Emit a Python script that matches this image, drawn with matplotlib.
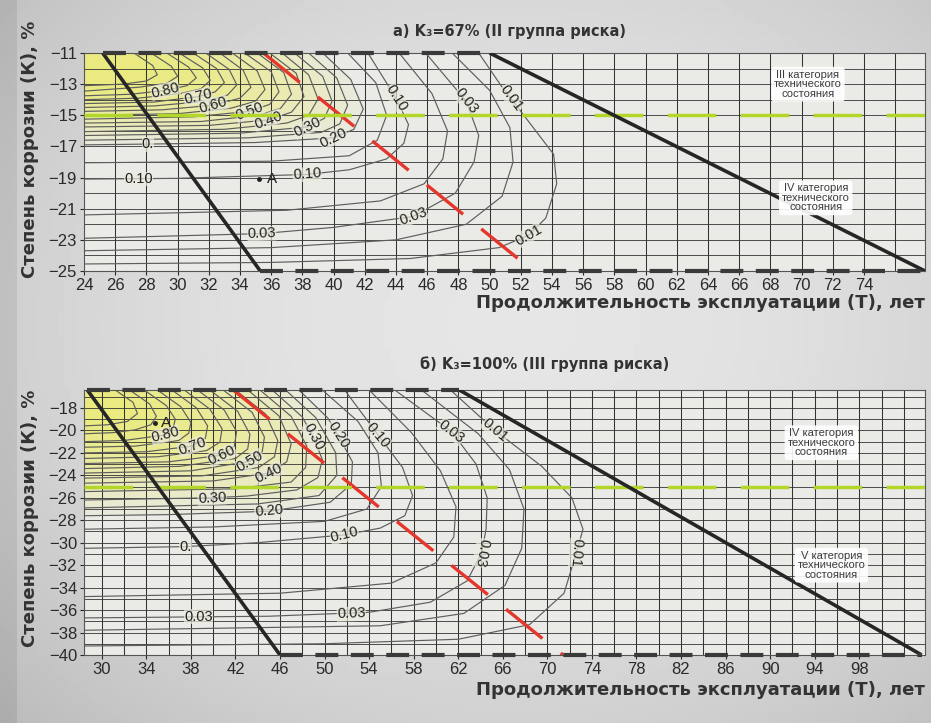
import numpy as np
import matplotlib.pyplot as plt

plt.rcParams['font.family'] = ['Liberation Sans', 'DejaVu Sans']

# ---------------- а) K3=67% (II группа риска) ----------------
a_levels = [0.90, 0.85, 0.80, 0.75, 0.70, 0.65, 0.60, 0.55, 0.50, 0.45, 0.40, 0.35, 0.30, 0.25,
            0.20, 0.15, 0.10, 0.05, 0.03, 0.02, 0.01]
a_T = [
    [27.2, 28.4, 28.7, 28.0, 26.5, 24.0],
    [28.3, 29.6, 30.0, 29.3, 27.5, 24.0],
    [29.3, 30.7, 31.2, 30.6, 29.2, 27.0, 24.0],
    [30.1, 31.6, 32.1, 31.5, 30.2, 27.5, 24.0],
    [31.0, 32.5, 33.0, 32.4, 31.3, 28.5, 24.0],
    [31.8, 33.3, 33.8, 33.2, 31.8, 28.5, 24.0],
    [32.7, 34.2, 34.7, 34.0, 32.3, 29.0, 24.0],
    [33.5, 35.1, 35.6, 35.0, 33.4, 30.0, 24.0],
    [34.3, 36.0, 36.5, 35.9, 34.6, 31.0, 24.0],
    [35.1, 36.8, 37.3, 36.6, 35.2, 31.5, 24.0],
    [35.9, 37.6, 38.1, 37.3, 35.8, 32.0, 24.0],
    [36.7, 38.4, 39.0, 38.4, 37.0, 33.0, 24.0],
    [37.5, 39.3, 39.9, 39.4, 38.3, 34.0, 24.0],
    [38.4, 40.2, 40.9, 40.4, 39.2, 34.5, 24.0],
    [39.3, 41.1, 41.9, 41.3, 40.0, 35.0, 28.1, 24.0],
    [40.9, 42.7, 43.4, 42.8, 41.0, 36.0, 24.0],
    [42.2, 44.0, 44.8, 44.5, 43.4, 41.0, 38.3, 30.0, 24.0],
    [44.2, 46.3, 47.3, 47.0, 45.8, 43.0, 37.0, 24.0],
    [45.9, 48.5, 49.3, 49.0, 47.8, 45.1, 40.0, 35.4, 24.0],
    [47.6, 50.0, 51.3, 51.5, 50.8, 48.5, 44.0, 36.0, 24.0],
    [49.3, 50.7, 52.8, 54.1, 54.3, 53.6, 52.5, 50.6, 44.9, 36.0, 24.0],
]
a_K = [
    [-11, -11.8, -12.4, -12.8, -13.0, -13.1],
    [-11, -11.85, -12.5, -12.95, -13.2, -13.45],
    [-11, -11.9, -12.6, -13.1, -13.4, -13.65, -13.75],
    [-11, -11.95, -12.75, -13.3, -13.6, -13.9, -14.0],
    [-11, -12.0, -12.9, -13.5, -13.8, -14.15, -14.25],
    [-11, -12.05, -13.05, -13.7, -14.1, -14.4, -14.5],
    [-11, -12.1, -13.2, -13.9, -14.35, -14.65, -14.75],
    [-11, -12.15, -13.35, -14.1, -14.55, -14.9, -15.0],
    [-11, -12.2, -13.5, -14.3, -14.75, -15.1, -15.25],
    [-11, -12.25, -13.65, -14.55, -15.0, -15.4, -15.5],
    [-11, -12.3, -13.8, -14.8, -15.3, -15.65, -15.75],
    [-11, -12.4, -13.95, -15.0, -15.5, -15.9, -16.05],
    [-11, -12.5, -14.1, -15.2, -15.75, -16.15, -16.3],
    [-11, -12.6, -14.35, -15.55, -16.1, -16.45, -16.6],
    [-11, -12.7, -14.6, -15.9, -16.45, -16.75, -16.85, -16.9],
    [-11, -12.9, -15.0, -16.6, -17.6, -17.95, -18.05],
    [-11, -13.9, -15.6, -16.8, -17.8, -18.5, -18.8, -19.05, -19.1],
    [-11, -13.6, -16.0, -17.8, -19.4, -20.5, -21.1, -21.4],
    [-11, -14.1, -16.3, -18.0, -20.0, -21.5, -22.2, -22.6, -22.9],
    [-11, -13.4, -15.8, -18.0, -20.2, -22.0, -23.0, -23.5, -23.7],
    [-11, -13.05, -15.8, -17.5, -19.4, -21.6, -22.7, -23.5, -24.2, -24.45, -24.55],
]
a_labels = [("0.80", 29.2, -13.40, 14), ("0.70", 31.3, -13.80, 14), ("0.60", 32.3, -14.35, 16),
            ("0.50", 34.6, -14.75, 20), ("0.40", 35.8, -15.30, 20), ("0.30", 38.3, -15.75, 26),
            ("0.20", 40.0, -16.45, 26), ("0.", 28.1, -16.87, 0), ("0.10", 27.5, -19.08, 0),
            ("0.10", 38.3, -18.80, 4), ("0.10", 44.0, -13.9, -58), ("0.03", 48.5, -14.1, -52),
            ("0.01", 51.4, -13.9, -53), ("0.03", 45.1, -21.5, 20), ("0.03", 35.4, -22.6, 2),
            ("0.01", 52.5, -22.7, 30)]
a_xlim, a_ylim = (24, 77.9), (-25, -11)
a_xticks = list(range(24, 75, 2))
a_yticks = list(range(-11, -26, -2))
a_left = ([25.2, 35.3], [-11, -25])
a_right = ([50.0, 77.9], [-11, -25])
a_red = ([35.5, 52.8], [-11, -25])
a_green = -15
a_A = (35.2, -19.1)
a_boxes = [("III категория\nтехнического\nсостояния", 70.4, -13.0),
           ("IV категория\nтехнического\nсостояния", 70.9, -20.3)]

# ---------------- б) K3=100% (III группа риска) ----------------
b_levels = a_levels
b_T = [
    [31.2, 32.8, 33.2, 32.3, 30.5, 28.4],
    [32.5, 34.3, 34.9, 34.4, 33.0, 31.0, 28.4],
    [33.8, 35.8, 36.6, 36.4, 35.7, 32.0, 28.4],
    [35.0, 37.1, 38.0, 37.8, 36.9, 33.0, 28.4],
    [36.3, 38.5, 39.5, 39.3, 38.1, 34.0, 28.4],
    [37.4, 39.7, 40.8, 40.6, 39.4, 35.0, 28.4],
    [38.6, 41.0, 42.1, 41.9, 40.8, 36.0, 28.4],
    [39.7, 42.2, 43.3, 43.1, 42.0, 37.0, 28.4],
    [40.9, 43.5, 44.6, 44.4, 43.3, 38.0, 28.4],
    [42.0, 44.7, 45.8, 45.5, 44.1, 39.0, 28.4],
    [43.1, 45.9, 47.0, 46.6, 45.0, 40.0, 28.4],
    [44.2, 47.0, 48.4, 48.3, 47.0, 42.0, 28.4],
    [45.3, 48.0, 49.0, 49.8, 49.4, 47.5, 43.0, 39.9, 28.4],
    [46.5, 49.2, 51.0, 51.1, 49.5, 44.0, 28.4],
    [47.7, 50.3, 51.2, 52.5, 52.4, 50.5, 45.0, 36.0, 28.4],
    [49.8, 53.0, 54.8, 55.1, 53.8, 50.0, 40.0, 28.4],
    [51.8, 54.8, 57.0, 57.9, 57.2, 55.0, 51.8, 44.0, 37.5, 28.4],
    [54.0, 57.8, 60.4, 61.8, 61.6, 60.0, 56.0, 46.0, 28.4],
    [56.3, 61.4, 63.6, 64.6, 64.5, 64.1, 62.8, 59.5, 54.0, 45.0, 28.4],
    [58.7, 63.8, 66.6, 67.9, 67.7, 66.2, 62.5, 55.0, 28.4],
    [61.3, 65.3, 69.5, 72.2, 73.2, 72.6, 71.5, 68.4, 62.0, 50.0, 28.4],
]
b_K = [
    [-16.4, -17.5, -18.5, -19.2, -19.5, -19.6],
    [-16.4, -17.65, -18.75, -19.5, -19.95, -20.2, -20.3],
    [-16.4, -17.8, -19.0, -19.8, -20.4, -20.9, -21.0],
    [-16.4, -17.9, -19.3, -20.25, -20.9, -21.4, -21.5],
    [-16.4, -18.0, -19.6, -20.7, -21.4, -21.9, -22.0],
    [-16.4, -18.1, -19.85, -21.05, -21.8, -22.35, -22.5],
    [-16.4, -18.2, -20.1, -21.4, -22.2, -22.8, -22.95],
    [-16.4, -18.3, -20.35, -21.65, -22.5, -23.2, -23.4],
    [-16.4, -18.4, -20.6, -21.9, -22.75, -23.6, -23.8],
    [-16.4, -18.55, -20.9, -22.35, -23.3, -24.05, -24.25],
    [-16.4, -18.7, -21.2, -22.8, -23.8, -24.5, -24.7],
    [-16.4, -18.75, -21.4, -23.3, -24.6, -25.2, -25.45],
    [-16.4, -18.8, -20.6, -22.6, -24.2, -25.3, -25.85, -26.0, -26.2],
    [-16.4, -18.85, -22.0, -24.0, -25.8, -26.55, -26.9],
    [-16.4, -18.9, -20.4, -22.8, -24.8, -26.4, -27.2, -27.5, -27.6],
    [-16.4, -19.2, -22.0, -25.0, -27.0, -28.1, -28.6, -28.8],
    [-16.4, -20.4, -23.3, -25.8, -27.6, -28.7, -29.3, -30.0, -30.35, -30.5],
    [-16.4, -20.2, -23.6, -26.8, -29.5, -31.8, -33.6, -34.5, -34.8],
    [-16.4, -20.1, -23.0, -26.0, -28.8, -30.9, -33.4, -35.3, -36.2, -36.55, -36.7],
    [-16.4, -20.3, -23.5, -27.0, -30.5, -33.8, -36.3, -37.4, -37.8],
    [-16.4, -20.0, -23.2, -26.0, -28.8, -30.9, -34.5, -37.3, -38.6, -39.0, -39.2],
]
b_labels = [("0.80", 35.7, -20.4, 14), ("0.70", 38.1, -21.4, 20), ("0.60", 40.8, -22.2, 25),
            ("0.50", 43.3, -22.75, 30), ("0.40", 45.0, -23.8, 25), ("0.30", 49.0, -20.6, -62),
            ("0.20", 51.2, -20.4, -58), ("0.10", 54.8, -20.4, -50), ("0.03", 61.4, -20.1, -38),
            ("0.01", 65.3, -20.0, -40), ("0.30", 39.9, -26.0, 3), ("0.20", 45.0, -27.2, 5),
            ("0.10", 51.8, -29.3, 14), ("0.", 37.5, -30.35, 0), ("0.03", 38.7, -36.6, 0),
            ("0.03", 52.4, -36.35, 2), ("0.03", 64.1, -30.9, -100), ("0.01", 72.6, -30.9, -95)]
b_xlim, b_ylim = (28.4, 103.9), (-40, -16.4)
b_xticks = list(range(30, 99, 4))
b_yticks = list(range(-18, -41, -2))
b_left = ([28.7, 46.0], [-16.4, -40])
b_right = ([62.1, 103.6], [-16.4, -40])
b_red = ([41.8, 71.4], [-16.4, -40])
b_green = -25
b_A = (34.8, -19.3)
b_boxes = [("IV категория\nтехнического\nсостояния", 94.6, -21.1),
           ("V категория\nтехнического\nсостояния", 95.5, -32.0)]


def draw_panel(ax, levels, Ts, Ks, labels, xlim, ylim, xticks, yticks, xgrid,
               left, right, red, green, A, boxes):
    ax.set_facecolor('#eaeae6')
    ax.set_xlim(xlim)
    ax.set_ylim(ylim)
    # grid
    for x in xgrid:
        ax.axvline(x, color='#333333', lw=0.75, zorder=1)
    top = int(np.floor(ylim[1] - 0.01))
    for y in range(top, int(ylim[0]), -1):
        ax.axhline(y, color='#333333', lw=0.6, zorder=1)
    # yellow shading of the high-probability zone
    for lev, t, k in zip(levels, Ts, Ks):
        if lev >= 0.2:
            ax.fill(t + [xlim[0]], k + [ylim[1]], color='#f6f250', alpha=0.065, lw=0, zorder=0.5)
    # isolines
    for t, k in zip(Ts, Ks):
        ax.plot(t, k, color='#5e5e5e', lw=0.85, zorder=2, solid_joinstyle='round')
    for txt, x, y, rot in labels:
        ax.text(x, y, txt, fontsize=10.5, color='#222222', rotation=rot, ha='center', va='center',
                rotation_mode='anchor', zorder=3,
                bbox=dict(boxstyle='square,pad=0.02', fc='#ebebdf', ec='none', alpha=0.7))
    # boundaries of the zone
    ax.plot(left[0], left[1], color='#262626', lw=2.6, zorder=5, solid_capstyle='butt')
    ax.plot(right[0], right[1], color='#262626', lw=2.6, zorder=5, solid_capstyle='butt')
    ax.plot([left[0][0], right[0][0]], [ylim[1], ylim[1]], color='#3a3a3a', lw=3,
            dashes=(5.5, 3), zorder=5, clip_on=False)
    ax.plot([left[0][1], right[0][1]], [ylim[0], ylim[0]], color='#3a3a3a', lw=3,
            dashes=(5.5, 3), zorder=5, clip_on=False)
    ax.plot(red[0], red[1], color='#e4362c', lw=2.4, dashes=(14, 7), zorder=4)
    ax.axhline(green, color='#b3d62a', lw=2.5, dashes=(14, 7), zorder=4)
    # point A
    ax.plot(A[0], A[1], 'o', ms=2.5, color='#222222', zorder=4)
    ax.text(A[0] + 0.5, A[1], 'A', fontsize=11, color='#222222', va='center', zorder=4)
    for txt, x, y in boxes:
        ax.text(x, y, txt, fontsize=8, color='#3c3c3c', ha='center', va='center',
                linespacing=0.95, zorder=6,
                bbox=dict(boxstyle='round,pad=0.25', fc='white', ec='none', alpha=0.9))
    ax.set_xticks(xticks)
    ax.set_yticks(yticks)
    ax.tick_params(labelsize=12, colors='#2a2a2a', length=3, pad=2)
    for s in ax.spines.values():
        s.set_color('#555555')
        s.set_linewidth(0.8)


fig = plt.figure(figsize=(9.31, 7.23), dpi=100)

# grey vignetted background
bg = fig.add_axes([0, 0, 1, 1], zorder=-10)
yy, xx = np.mgrid[0:1:120j, 0:1:160j]
shade = 0.90 - 0.22 * ((xx - 0.55) ** 2 * 1.3 + (yy - 0.45) ** 2 * 1.2)
shade[:, :3] -= 0.06
bg.imshow(shade, cmap='gray', vmin=0, vmax=1, aspect='auto', extent=[0, 1, 0, 1])
bg.axis('off')

ax1 = fig.add_axes([0.0902, 0.6252, 0.9033, 0.3015])
draw_panel(ax1, a_levels, a_T, a_K, a_labels, a_xlim, a_ylim, a_xticks, a_yticks,
           list(range(26, 78, 2)), a_left, a_right, a_red, a_green, a_A, a_boxes)

ax2 = fig.add_axes([0.0902, 0.0941, 0.9033, 0.3665])
draw_panel(ax2, b_levels, b_T, b_K, b_labels, b_xlim, b_ylim, b_xticks, b_yticks,
           list(range(30, 104, 2)), b_left, b_right, b_red, b_green, b_A, b_boxes)

bold = ['DejaVu Sans']
fig.text(0.547, 0.956, 'а) K₃=67% (II группа риска)', fontsize=10.5, fontweight='bold',
         color='#333333', ha='center', va='center', family=bold)
fig.text(0.585, 0.497, 'б) K₃=100% (III группа риска)', fontsize=10.5, fontweight='bold',
         color='#333333', ha='center', va='center', family=bold)
for y in (0.581, 0.046):
    fig.text(0.9936, y, 'Продолжительность эксплуатации (T), лет', fontsize=13,
             fontweight='bold', color='#333333', ha='right', va='center', family=bold)
for y in (0.793, 0.283):
    fig.text(0.032, y, 'Степень коррозии (К), %', fontsize=13, fontweight='bold',
             color='#333333', ha='center', va='center', rotation=90, family=bold)

fig.savefig('out.png', dpi=100)
